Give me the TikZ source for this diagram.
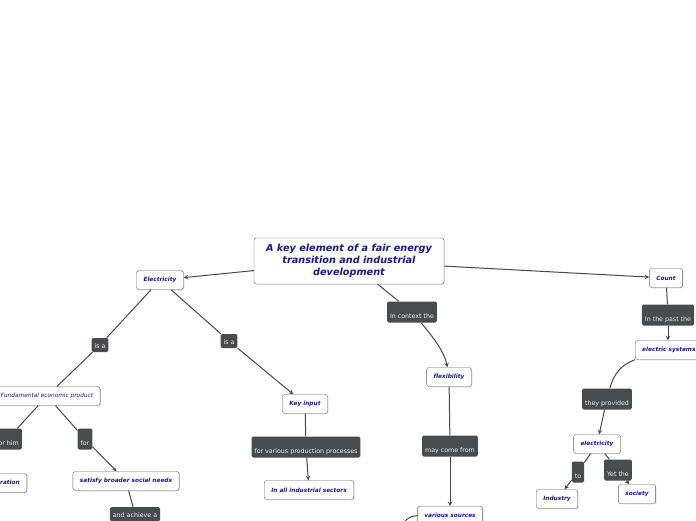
\documentclass[tikz,border=0pt]{standalone}
\usepackage{fontspec}
\newfontfamily\mapfont{DejaVu Sans}
\usetikzlibrary{shadows}
\definecolor{topicblue}{RGB}{22,22,158}
\definecolor{tagfill}{RGB}{72,76,76}
\definecolor{linkgray}{RGB}{72,72,72}
\tikzset{
	topic/.style={draw=gray!75!black, fill=white, rounded corners=2.5pt, text=topicblue, font=\mapfont\bfseries\itshape\fontsize{5.8}{7}\selectfont, inner xsep=7pt, minimum height=19pt, drop shadow={shadow xshift=0.8pt, shadow yshift=-0.8pt, opacity=0.3}},
	plaintopic/.style={topic, font=\mapfont\itshape\fontsize{5.8}{7}\selectfont},
	tag/.style={fill=tagfill, rounded corners=1.5pt, text=white!88!gray, font=\mapfont\fontsize{6.3}{7}\selectfont, inner xsep=3pt, inner ysep=2pt, text height=15pt, text depth=2pt},
	smalltag/.style={tag, text height=8pt},
	link/.style={draw=linkgray, line width=1pt},
	arrowlink/.style={link, -stealth},
}
\begin{document}
\begin{tikzpicture}[x=1pt, y=-1pt]
		\useasboundingbox (0,0) rectangle (696,520);
		\clip (0,0) rectangle (696,520);
\node[topic, font=\mapfont\bfseries\itshape\fontsize{9.7}{12}\selectfont, align=center, minimum width=190pt, minimum height=46pt] (root) at (349,261) {A key element of a fair energy\\transition and industrial\\development};
\node[topic] (elec) at (160,280) {Electricity};
\node[smalltag] (isaL) at (100,345) {is a};
\node[smalltag] (isaR) at (229,341) {is a};
\node[plaintopic] (fund) at (47,396) {Fundamental economic product};
\node[tag, anchor=east] (forhim) at (22,439) {for him};
\node[topic, anchor=east] (gen) at (27,483) {generation};
\node[tag] (forL) at (85,439) {for};
\node[topic] (social) at (126,481) {satisfy broader social needs};
\node[smalltag, anchor=north] (achieve) at (135,507) {and achieve a};
\node[topic] (keyin) at (305,404) {Key input};
\node[tag] (prod) at (306,447) {for various production processes};
\node[topic] (sectors) at (309,490) {In all industrial sectors};
\node[tag] (context) at (412,312) {In context the};
\node[topic] (flex) at (449,377) {flexibility};
\node[tag] (come) at (450,446) {may come from};
\node[topic, anchor=north] (sources) at (450,506) {various sources};
\coordinate (below) at (400,528);
\node[topic] (count) at (666,278) {Count};
\node[tag] (past) at (668,315) {In the past the};
\node[topic, anchor=west] (systems) at (635,350) {electric systems};
\node[tag] (provided) at (607,399) {they provided};
\node[topic] (elec2) at (597,444) {electricity};
\node[tag] (to) at (578,472) {to};
\node[tag] (yet) at (618,470) {Yet the};
\node[topic] (industry) at (557,499) {Industry};
\node[topic] (society) at (637,494) {society};

\draw[arrowlink] (root) -- (elec);
\draw[arrowlink] (root) -- (count);
\draw[link] (root) -- (context);
\draw[arrowlink] (context) to[out=-50, in=100, looseness=0.8] (flex);
\draw[link] (elec) -- (isaL);
\draw[link] (isaL) -- (fund);
\draw[link] (elec) -- (isaR);
\draw[arrowlink] (isaR) -- (keyin);
\draw[link] (fund) -- (forhim);
\draw[link] (fund) -- (forL);
\draw[arrowlink] (forL) -- (social);
\draw[link] (social) -- (achieve);
\draw[link] (keyin) -- (prod);
\draw[arrowlink] (prod) -- (sectors);
\draw[link] (flex) -- (come);
\draw[arrowlink] (come) -- (sources);
\draw[link] (sources.west) to[out=180, in=60] (below);
\draw[link] (count) -- (past);
\draw[arrowlink] (past) -- (past |- systems.north);
\draw[link] (systems.south west) to[out=200, in=75] (provided);
\draw[arrowlink] (provided) -- (elec2);
\draw[link] (elec2) -- (to);
\draw[arrowlink] (to) -- (industry);
\draw[link] (elec2) -- (yet);
\draw[arrowlink] (yet) -- (society);
\end{tikzpicture}
\end{document}
